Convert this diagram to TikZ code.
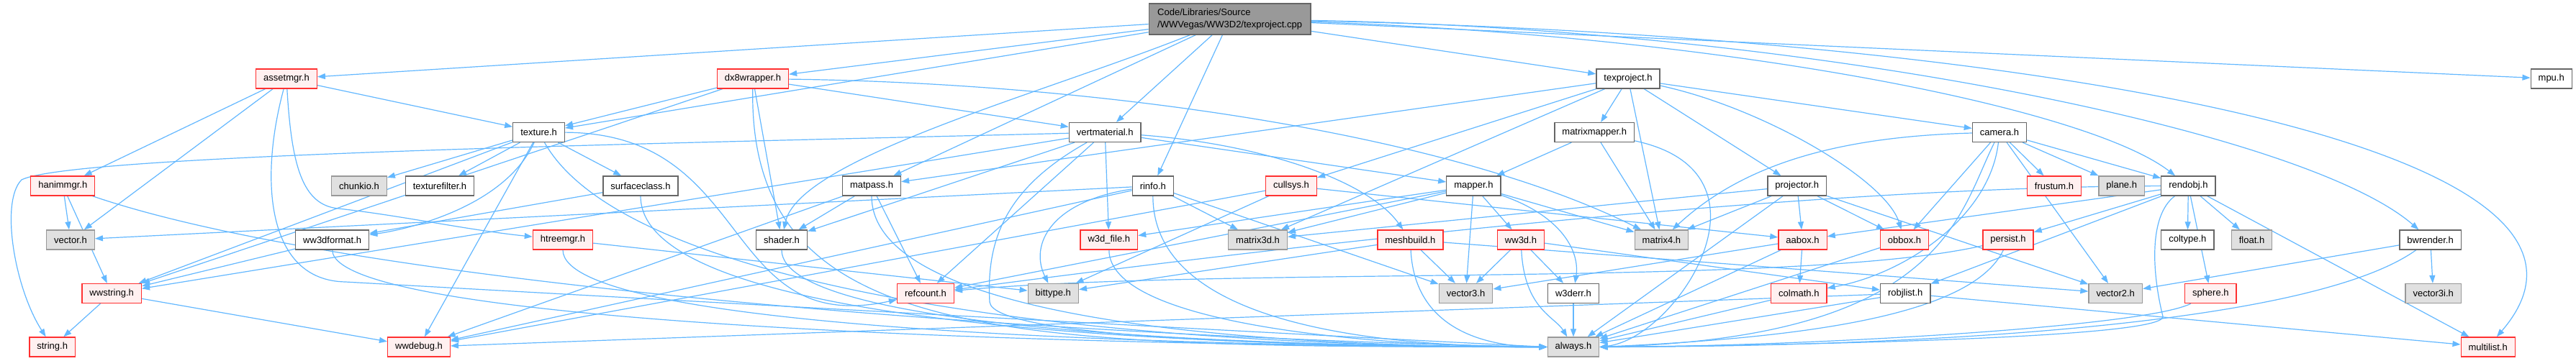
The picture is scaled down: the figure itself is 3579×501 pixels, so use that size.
\documentclass[tikz,border=0pt]{standalone}
\usepackage{fontspec}
\setmainfont{Liberation Sans}
\usetikzlibrary{arrows.meta}
\definecolor{edgeblue}{HTML}{63B8FF}
\definecolor{redfill}{HTML}{FFF0F0}
\definecolor{redline}{HTML}{FF3030}
\definecolor{greyfill}{HTML}{E0E0E0}
\definecolor{greyline}{HTML}{999999}
\definecolor{darkline}{HTML}{666666}
\definecolor{mainfill}{HTML}{999999}
\pgfdeclarelayer{edgelayer}
\pgfsetlayers{edgelayer,main}
\tikzset{
 box/.style={draw, line width=1.3pt, minimum height=27pt, inner xsep=10.5pt, inner ysep=0pt, font=\fontsize{13}{15}\selectfont, text=black},
 whitebox/.style={box, fill=white, draw=darkline},
 greybox/.style={box, fill=greyfill, draw=greyline},
 redbox/.style={box, fill=redfill, draw=redline},
 mainbox/.style={box, fill=mainfill, draw=darkline, align=left, minimum height=43pt, inner xsep=12pt, font=\fontsize{13}{16.5}\selectfont},
 dep/.style={draw=edgeblue, line width=1.2pt, -{Triangle[length=11pt,width=8pt]}},
}
\begin{document}
\begin{tikzpicture}[x=1pt,y=-1pt]
\useasboundingbox (0,0) rectangle (3579,501);
% nodes
\node[mainbox] (main) at (1708.6,26.5) {Code/Libraries/Source\\/WWVegas/WW3D2/texproject.cpp};
\node[redbox] (assetmgr) at (398,109.5) {assetmgr.h};
\node[redbox] (dx8wrapper) at (1046,109.5) {dx8wrapper.h};
\node[whitebox] (texprojh) at (2262,109.5) {texproject.h};
\node[whitebox] (mpu) at (3544.7,109.5) {mpu.h};
\node[whitebox] (texture) at (748.6,184) {texture.h};
\node[whitebox] (vertmaterial) at (1535.2,184) {vertmaterial.h};
\node[whitebox] (matrixmapper) at (2215.2,184) {matrixmapper.h};
\node[whitebox] (camera) at (2778,184) {camera.h};
\node[redbox] (hanimmgr) at (87.3,258.5) {hanimmgr.h};
\node[greybox] (chunkio) at (499,258.5) {chunkio.h};
\node[whitebox] (texturefilter) at (611,258.5) {texturefilter.h};
\node[whitebox] (surfaceclass) at (890,258.5) {surfaceclass.h};
\node[whitebox] (matpass) at (1211,258.5) {matpass.h};
\node[whitebox] (rinfo) at (1601.8,258.5) {rinfo.h};
\node[redbox] (cullsys) at (1794,258.5) {cullsys.h};
\node[whitebox] (mapper) at (2047.4,258.5) {mapper.h};
\node[whitebox] (projector) at (2496.7,258.5) {projector.h};
\node[redbox] (frustum) at (2854,258.5) {frustum.h};
\node[greybox] (plane) at (2947.7,258.5) {plane.h};
\node[whitebox] (rendobj) at (3040.4,258.5) {rendobj.h};
\node[greybox] (vector) at (98,333.5) {vector.h};
\node[whitebox] (ww3dformat) at (461.7,333.5) {ww3dformat.h};
\node[redbox] (htreemgr) at (782,333.5) {htreemgr.h};
\node[whitebox] (shader) at (1086,333.5) {shader.h};
\node[redbox] (w3dfile) at (1540.8,333.5) {w3d\_file.h};
\node[greybox] (matrix3d) at (1747.5,333.5) {matrix3d.h};
\node[redbox] (meshbuild) at (1959.4,333.5) {meshbuild.h};
\node[redbox] (ww3d) at (2113,333.5) {ww3d.h};
\node[greybox] (matrix4) at (2308.4,333.5) {matrix4.h};
\node[redbox] (aabox) at (2504.5,333.5) {aabox.h};
\node[redbox] (obbox) at (2646,333.5) {obbox.h};
\node[redbox] (persist) at (2790,333.5) {persist.h};
\node[whitebox] (coltype) at (3039.3,333.5) {coltype.h};
\node[greybox] (float) at (3128.5,333.5) {float.h};
\node[whitebox] (bwrender) at (3376.6,333.5) {bwrender.h};
\node[redbox] (wwstring) at (155.2,408) {wwstring.h};
\node[redbox] (refcount) at (1286,408) {refcount.h};
\node[greybox] (bittype) at (1463.3,408) {bittype.h};
\node[greybox] (vector3) at (2036.5,408) {vector3.h};
\node[whitebox] (w3derr) at (2186,408) {w3derr.h};
\node[redbox] (colmath) at (2499.3,408) {colmath.h};
\node[whitebox] (robjlist) at (2647.2,408) {robjlist.h};
\node[greybox] (vector2) at (2939.2,408) {vector2.h};
\node[redbox] (sphere) at (3071.3,408) {sphere.h};
\node[greybox] (vector3i) at (3380.7,408) {vector3i.h};
\node[redbox] (string) at (72.7,482.5) {string.h};
\node[redbox] (wwdebug) at (582,482.5) {wwdebug.h};
\node[greybox] (always) at (2186,482.5) {always.h};
\node[redbox] (multilist) at (3456.7,482.5) {multilist.h};
\begin{pgfonlayer}{edgelayer}
\fill[white] (0,0) rectangle (3579,501);
\foreach \s/\t in {main/texprojh, main/assetmgr, main/dx8wrapper, main/texture, main/vertmaterial, main/rinfo, main/matpass, main/mpu,
 assetmgr/hanimmgr, assetmgr/vector, assetmgr/texture,
 hanimmgr/vector, hanimmgr/wwstring,
 wwstring/string, wwstring/wwdebug,
 ww3dformat/wwstring,
 dx8wrapper/texture, dx8wrapper/wwstring, dx8wrapper/shader, dx8wrapper/vertmaterial,
 texture/chunkio, texture/texturefilter, texture/surfaceclass, texture/wwstring, texture/wwdebug,
 surfaceclass/ww3dformat,
 htreemgr/bittype,
 matpass/shader, matpass/refcount, matpass/wwdebug,
 vertmaterial/wwstring, vertmaterial/refcount, vertmaterial/w3dfile, vertmaterial/shader, vertmaterial/mapper,
 rinfo/vector, rinfo/matrix3d, rinfo/vector3, rinfo/wwdebug,
 cullsys/wwdebug, cullsys/aabox, cullsys/bittype,
 texprojh/matrixmapper, texprojh/matrix4, texprojh/matrix3d, texprojh/projector, texprojh/cullsys, texprojh/matpass, texprojh/camera,
 matrixmapper/mapper, matrixmapper/matrix4,
 mapper/ww3d, mapper/vector3, mapper/matrix4, mapper/w3dfile, mapper/matrix3d, mapper/refcount,
 meshbuild/vector3, meshbuild/bittype, meshbuild/vector2,
 ww3d/vector3, ww3d/w3derr, ww3d/robjlist,
 w3derr/always,
 camera/rendobj, camera/plane, camera/frustum, camera/obbox, camera/vector2,
 projector/aabox, projector/obbox, projector/matrix4, projector/matrix3d, projector/always, projector/vector2,
 aabox/colmath, aabox/vector3, aabox/always,
 obbox/always, colmath/always, robjlist/always, robjlist/multilist, robjlist/wwdebug,
 rendobj/coltype, rendobj/float, rendobj/sphere, rendobj/persist, rendobj/aabox, rendobj/robjlist, rendobj/multilist,
 bwrender/vector3i, bwrender/vector2}
  \draw[dep] (\s) -- (\t);
% curved connectors
\draw[dep] (main) .. controls (1450,130) and (1110,220) .. (shader);
\draw[dep] (main) .. controls (2400,50) and (2900,150) .. (rendobj);
\draw[dep] (main) .. controls (2500,40) and (3200,180) .. (bwrender);
\draw[dep] (main) .. controls (2800,50) and (3700,200) .. (multilist);
\draw[dep] (assetmgr) .. controls (405,230) and (420,285) .. (470,290) .. controls (560,300) and (650,320) .. (htreemgr);
\draw[dep] (assetmgr) .. controls (360,250) and (370,390) .. (480,392) .. controls (800,410) and (1700,460) .. (always.west);
\draw[dep] (hanimmgr) .. controls (500,400) and (1500,470) .. (always.west);
\draw[dep] (ww3dformat) .. controls (462,455) and (1549,482) .. (always.west);
\draw[dep] (dx8wrapper) .. controls (1500,115) and (2000,180) .. (matrix4);
\draw[dep] (dx8wrapper) .. controls (1040,480) and (1400,482) .. (always.west);
\draw[dep] (texture) .. controls (700,290) and (560,320) .. (ww3dformat);
\draw[dep] (texture) .. controls (1050,185) and (1000,470) .. (refcount);
\draw[dep] (texture) .. controls (870,400) and (1500,482) .. (always.west);
\draw[dep] (surfaceclass) .. controls (890,455) and (1650,482) .. (always.west);
\draw[dep] (htreemgr) .. controls (782,460) and (1650,482) .. (always.west);
\draw[dep] (shader) .. controls (1086,460) and (1750,482) .. (always.west);
\draw[dep] (matpass) .. controls (1211,455) and (1800,482) .. (always.west);
\draw[dep] (vertmaterial) .. controls (1750,200) and (1900,250) .. (meshbuild);
\draw[dep] (vertmaterial) .. controls (1400,260) and (1370,330) .. (1375,420) .. controls (1380,470) and (1800,482) .. (always.west);
\draw[dep] (vertmaterial) .. controls (900,200) and (100,215) .. (30,250) .. controls (0,280) and (20,400) .. (string);
\draw[dep] (rinfo) .. controls (1460,280) and (1430,340) .. (bittype);
\draw[dep] (rinfo) .. controls (1602,448) and (1900,482) .. (always.west);
\draw[dep] (w3dfile) .. controls (1541,450) and (1900,482) .. (always.west);
\draw[dep] (meshbuild) .. controls (1965,450) and (2050,482) .. (always.west);
\draw[dep] (ww3d) .. controls (2118,430) and (2160,440) .. (always);
\draw[dep] (mapper) .. controls (2170,300) and (2195,350) .. (w3derr);
\draw[dep] (matrixmapper) .. controls (2480,240) and (2330,470) .. (always.east);
\draw[dep] (texprojh) .. controls (2450,150) and (2620,250) .. (obbox);
\draw[dep] (camera) .. controls (2550,190) and (2420,230) .. (matrix4);
\draw[dep] (camera) .. controls (2765,300) and (2650,380) .. (colmath);
\draw[dep] (camera) .. controls (2720,300) and (2700,470) .. (always.east);
\draw[dep] (persist) .. controls (2740,440) and (2500,470) .. (always.east);
\draw[dep] (persist) .. controls (2500,400) and (1700,370) .. (refcount);
\draw[dep] (rendobj) .. controls (2400,260) and (1500,380) .. (refcount);
\draw[dep] (rendobj) .. controls (2985,300) and (2990,380) .. (3005,440) .. controls (3010,470) and (2500,480) .. (always.east);
\draw[dep] (sphere) .. controls (2980,455) and (2500,482) .. (always.east);
\draw[dep] (bwrender) .. controls (3200,460) and (2600,482) .. (always.east);
\end{pgfonlayer}
\end{tikzpicture}
\end{document}
